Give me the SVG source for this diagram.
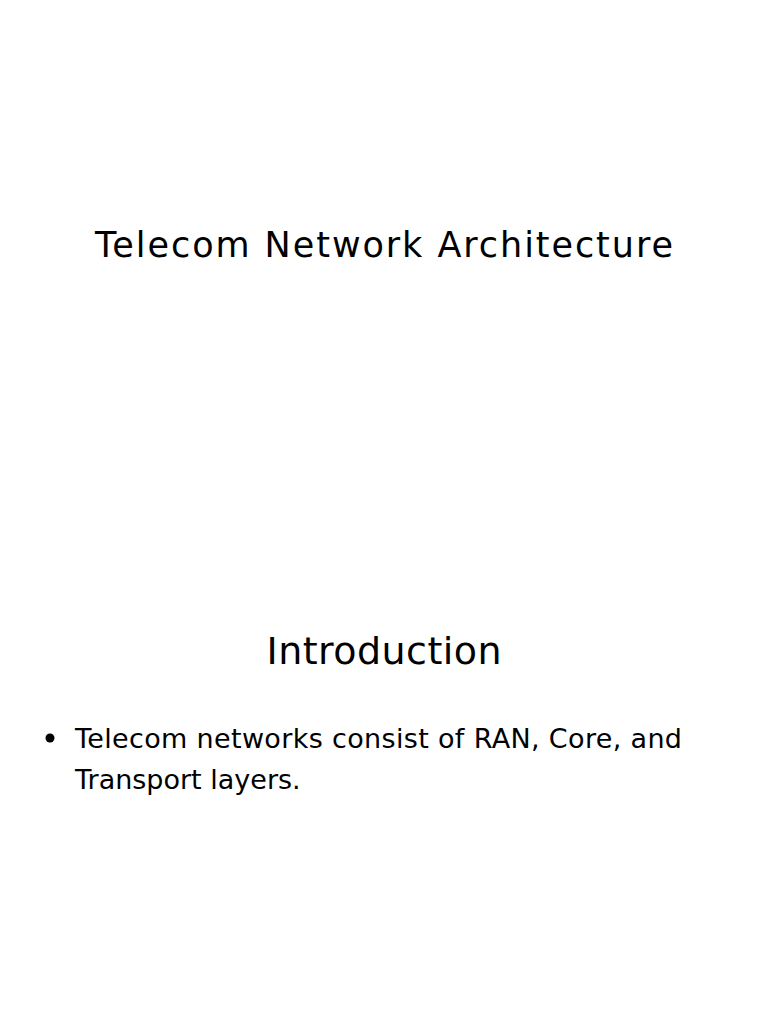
<svg xmlns="http://www.w3.org/2000/svg" width="768" height="1024" viewBox="0 0 768 1024">
<style>text{font-family:"DejaVu Sans",sans-serif;fill:#000}</style>
<rect width="768" height="1024" fill="#fff"/>
<text x="384" y="257" font-size="35" text-anchor="middle" textLength="578">Telecom Network Architecture</text>
<text x="384" y="664" font-size="38" text-anchor="middle" textLength="235">Introduction</text>
<circle cx="50" cy="738" r="4.5"/>
<text x="75" y="748" font-size="27" textLength="607">Telecom networks consist of RAN, Core, and</text>
<text x="75" y="789" font-size="27">Transport layers.</text>
</svg>
